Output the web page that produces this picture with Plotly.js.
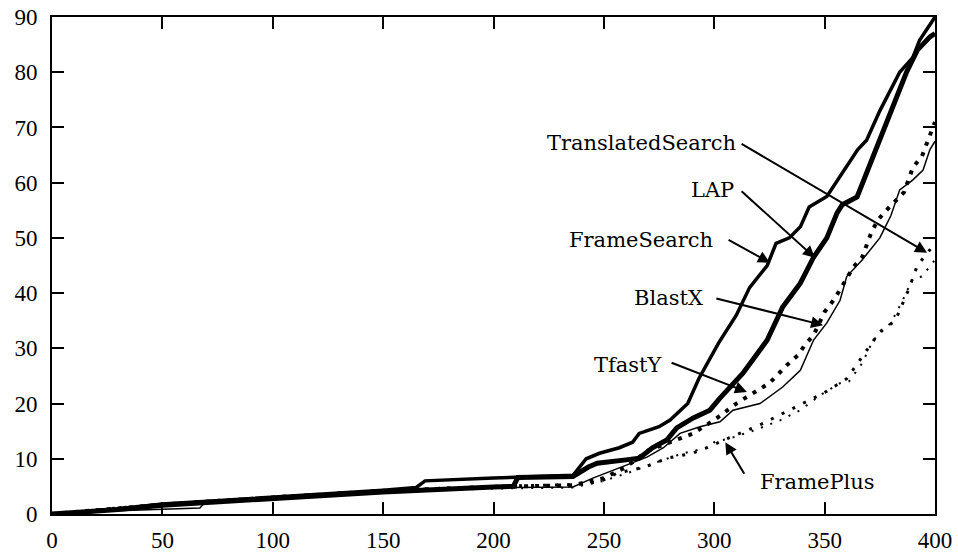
<!DOCTYPE html>
<html>
<head>
<meta charset="utf-8">
<script src="https://cdn.plot.ly/plotly-3.0.1.min.js"></script>
<style>html,body{margin:0;padding:0;background:#fff;}#chart{width:958px;height:556px;}</style>
</head>
<body>
<div id="chart"></div>
<script>
// ---- data ----
const frameSearchX = [0, 20, 50, 100, 150, 165, 169, 200, 236, 238, 242, 248, 257, 263, 266, 275, 280, 288, 293, 302, 310, 316, 324, 328, 334, 339, 343, 351, 360, 365, 369, 375, 384, 390, 393, 400];
const frameSearchY = [0, 0.5, 1.8, 3.0, 4.3, 4.8, 6.0, 6.5, 7.0, 8.0, 10.0, 11.0, 12.0, 13.0, 14.6, 15.8, 17.0, 20.0, 24.5, 31.0, 36.0, 41.0, 45.0, 49.0, 50.0, 52.0, 55.6, 57.5, 62.8, 66.0, 67.7, 73.0, 80.0, 82.7, 85.8, 90.0];

const lapX = [0, 30, 50, 100, 150, 200, 209, 211, 236, 243, 247, 260, 266, 272, 278.5, 283, 290.5, 298, 302.6, 313, 324, 331, 339, 345, 351, 355.6, 358, 364.7, 372, 380, 387, 392, 397.7, 400];
const lapY = [0, 0.8, 1.6, 2.8, 4.0, 4.9, 5.0, 6.6, 6.8, 8.5, 9.2, 9.8, 10.1, 12.0, 13.4, 15.6, 17.4, 18.8, 21.0, 25.5, 31.5, 37.5, 41.8, 46.5, 50.0, 54.5, 56.0, 57.4, 64.7, 72.6, 79.9, 84.0, 86.4, 87.0];

const blastXX = [0, 30, 67, 69, 100, 150, 200, 236, 245, 257, 269.5, 277, 284.5, 293.5, 302.6, 308.5, 320.7, 331, 339, 345, 351, 357, 360, 367, 375, 380, 384, 390, 394.6, 397.7, 400];
const blastXY = [0, 0.6, 1.1, 2.0, 2.7, 4.0, 4.8, 4.9, 6.5, 8.3, 10.3, 12.0, 14.6, 15.8, 16.7, 18.8, 20.0, 23.0, 26.0, 31.5, 34.6, 38.7, 43.0, 46.0, 50.0, 54.0, 58.7, 60.5, 62.3, 66.0, 67.5];

const tfastYX = [0, 50, 100, 150, 200, 236, 250, 260, 270, 280, 290, 300, 310, 316, 325, 333, 338, 341, 345, 350, 354, 357, 360, 363, 367, 369, 371, 374, 378, 386, 390, 394, 396, 398.6, 400];
const tfastYY = [0, 1.7, 3.0, 4.2, 4.9, 5.2, 6.5, 8.5, 11.5, 13.0, 14.5, 17.0, 20.0, 21.5, 23.7, 27.0, 28.8, 30.6, 32.4, 36.6, 38.7, 40.6, 42.7, 44.7, 46.5, 48.7, 50.8, 53.2, 55.0, 58.3, 62.8, 64.7, 66.8, 69.2, 71.0];

const translatedX = [0, 50, 100, 150, 200, 236, 248, 256, 268.6, 278.6, 290, 296.7, 305, 320, 340, 350, 360, 367, 375, 382, 388, 392, 396, 400];
const translatedY = [0, 1.8, 3.0, 4.2, 5.0, 5.3, 5.8, 7.4, 8.5, 10.1, 11.0, 12.0, 13.5, 16.0, 20.0, 22.0, 24.5, 28.5, 33.0, 35.0, 40.6, 45.0, 47.0, 49.0];

const framePlusX = [0, 50, 100, 150, 200, 236, 250, 262, 274, 286, 297, 300, 308, 318.5, 330, 339, 348, 357, 361, 367, 372, 380, 385, 390, 394, 400];
const framePlusY = [0, 1.5, 2.8, 4.0, 4.6, 4.8, 6.0, 7.6, 9.4, 11.0, 12.0, 13.0, 13.8, 15.2, 17.0, 18.8, 21.5, 23.7, 24.0, 27.3, 31.5, 34.6, 38.4, 42.7, 43.0, 46.0];

const xTicks = [0, 50, 100, 150, 200, 250, 300, 350, 400];
const yTicks = [0, 10, 20, 30, 40, 50, 60, 70, 80, 90];

// label name, text anchor point, arrow tail, arrow tip (data coords)
const labelNames = ["TranslatedSearch", "LAP", "FrameSearch", "BlastX", "TfastY", "FramePlus"];
const labelTextX = [310.8, 309.8, 300.3, 295.8, 277.7, 319.8];
const labelTextY = [67.2, 58.7, 49.6, 39.1, 27.0, 5.8];
const labelAnchor = ["right", "right", "right", "right", "right", "left"];
const arrowTailX = [311.7, 311.7, 305.8, 300.3, 280.0, 314.0];
const arrowTailY = [67.2, 58.7, 49.8, 39.1, 27.5, 7.0];
const arrowTipX = [396.4, 345.6, 325.2, 349.3, 314.8, 305.0];
const arrowTipY = [47.3, 46.4, 45.5, 34.2, 22.1, 13.0];

// ---- traces ----
const traces = [
  {x: frameSearchX, y: frameSearchY, name: "FrameSearch", mode: "lines", line: {color: "#000", width: 3.5}},
  {x: lapX, y: lapY, name: "LAP", mode: "lines", line: {color: "#000", width: 5}},
  {x: blastXX, y: blastXY, name: "BlastX", mode: "lines", line: {color: "#000", width: 1.5}},
  {x: tfastYX, y: tfastYY, name: "TfastY", mode: "lines", line: {color: "#000", width: 4, dash: "4px,7px"}},
  {x: translatedX, y: translatedY, name: "TranslatedSearch", mode: "lines", line: {color: "#000", width: 3, dash: "3px,9px"}},
  {x: framePlusX, y: framePlusY, name: "FramePlus", mode: "lines", line: {color: "#000", width: 2, dash: "2px,8px"}}
];

const annotations = [];
for (let i = 0; i < labelNames.length; i++) {
  annotations.push({
    x: labelTextX[i], y: labelTextY[i], xref: "x", yref: "y",
    text: labelNames[i], showarrow: false,
    xanchor: labelAnchor[i], yanchor: "middle",
    font: {family: "DejaVu Serif", size: 21, color: "#000"}
  });
  annotations.push({
    x: arrowTipX[i], y: arrowTipY[i], xref: "x", yref: "y",
    ax: arrowTailX[i], ay: arrowTailY[i], axref: "x", ayref: "y",
    text: "", showarrow: true, arrowhead: 2, arrowsize: 1.2, arrowwidth: 2,
    arrowcolor: "#000", standoff: 0, startstandoff: 0
  });
}

const axisCommon = {
  showgrid: false, zeroline: false, showline: true, linecolor: "#000", linewidth: 2,
  mirror: "ticks", ticks: "inside", ticklen: 12, tickwidth: 2, tickcolor: "#000",
  tickfont: {family: "Liberation Serif", size: 23, color: "#000"}
};

const layout = {
  width: 958, height: 556,
  margin: {l: 52, r: 23, t: 17, b: 42, pad: 0},
  paper_bgcolor: "#fff", plot_bgcolor: "#fff",
  showlegend: false,
  xaxis: Object.assign({}, axisCommon, {range: [0, 400], tickvals: xTicks, ticktext: xTicks.map(String), ticklabelstandoff: 4}),
  yaxis: Object.assign({}, axisCommon, {range: [0, 90], tickvals: yTicks, ticktext: yTicks.map(String), ticklabelstandoff: 8}),
  annotations: annotations
};

Plotly.newPlot("chart", traces, layout, {staticPlot: true, displayModeBar: false});
</script>
</body>
</html>
